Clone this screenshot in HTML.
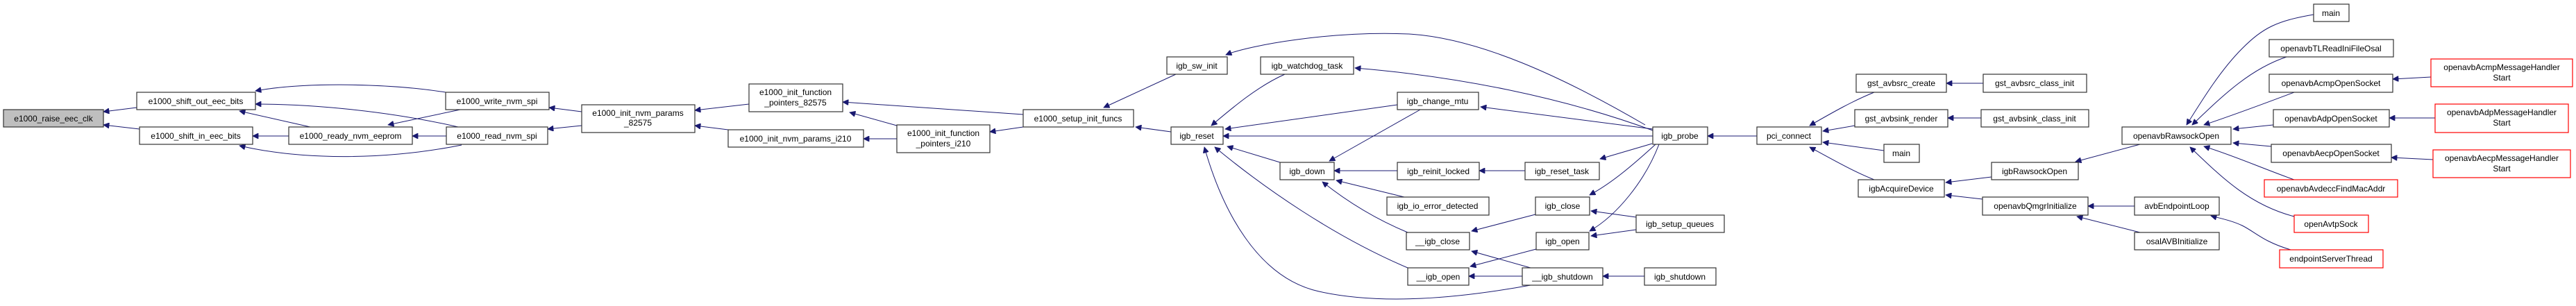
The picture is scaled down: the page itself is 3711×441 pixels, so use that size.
<!DOCTYPE html>
<html><head><meta charset="utf-8"><style>
html,body{margin:0;padding:0;background:#fff;}
svg{display:block;}
text{font-family:"Liberation Sans",Arial,sans-serif;font-size:12px;fill:#000;text-anchor:middle;}
.n{fill:#fff;stroke:#333;stroke-width:1.2;}
.g{fill:#bfbfbf;stroke:#333;stroke-width:1.2;}
.r{fill:#fff;stroke:#ff0000;stroke-width:1.2;}
.e{fill:none;stroke:#191970;stroke-width:1;marker-end:url(#a);}
</style></head><body>
<svg width="3711" height="441" viewBox="0 0 3711 441" xmlns="http://www.w3.org/2000/svg">
<defs><marker id="a" viewBox="0 0 10 10" refX="10" refY="5" markerWidth="10" markerHeight="8" orient="auto" markerUnits="userSpaceOnUse"><path d="M0,0 L10,5 L0,10 z" fill="#191970" stroke="#191970"/></marker></defs>
<g>
<path class="e" d="M197,155 L149,161"/>
<path class="e" d="M201,186 L149,180"/>
<path class="e" d="M642,133 C560,120 440,118 368,131"/>
<path class="e" d="M660,183 C560,160 450,150 368,150"/>
<path class="e" d="M447,183 L345,160"/>
<path class="e" d="M416,196 L364,196"/>
<path class="e" d="M665,209 C560,230 440,232 345,210"/>
<path class="e" d="M663,158 L559,180"/>
<path class="e" d="M643,196 L594,196"/>
<path class="e" d="M838,161 L791,155"/>
<path class="e" d="M838,181 L789,186"/>
<path class="e" d="M1079,150 L1001,159"/>
<path class="e" d="M1049,187 L1001,181"/>
<path class="e" d="M1474,165 L1214,147"/>
<path class="e" d="M1292,181 L1224,162"/>
<path class="e" d="M1292,200 L1244,200"/>
<path class="e" d="M1474,183 L1426,190"/>
<path class="e" d="M1694,107 L1590,155"/>
<path class="e" d="M1687,190 L1636,183"/>
<path class="e" d="M2370,180 C2250,110 2130,55 2030,49 C1920,44 1800,65 1766,79"/>
<path class="e" d="M2381,188 C2250,140 2100,110 1952,98"/>
<path class="e" d="M1851,107 C1810,125 1770,160 1745,181"/>
<path class="e" d="M2013,151 L1765,186"/>
<path class="e" d="M2381,196 L1762,196"/>
<path class="e" d="M1844,234 L1768,211"/>
<path class="e" d="M2028,386 C1920,340 1820,270 1750,212"/>
<path class="e" d="M2205,411 C2100,430 1990,440 1900,420 C1810,400 1760,300 1735,212"/>
<path class="e" d="M2381,186 L2133,154"/>
<path class="e" d="M2046,158 L1915,232"/>
<path class="e" d="M2013,246 L1922,246"/>
<path class="e" d="M2023,284 L1925,260"/>
<path class="e" d="M2028,335 C1980,315 1940,290 1905,262"/>
<path class="e" d="M2197,246 L2131,246"/>
<path class="e" d="M2380,207 L2305,229"/>
<path class="e" d="M2385,208 C2350,240 2320,265 2290,281"/>
<path class="e" d="M2390,208 C2370,260 2330,310 2290,333"/>
<path class="e" d="M2212,309 L2120,333"/>
<path class="e" d="M2213,359 L2118,384"/>
<path class="e" d="M2205,386 L2120,362"/>
<path class="e" d="M2193,398 L2116,398"/>
<path class="e" d="M2357,313 L2292,304"/>
<path class="e" d="M2357,331 L2292,340"/>
<path class="e" d="M2369,398 L2309,398"/>
<path class="e" d="M2531,196 L2460,196"/>
<path class="e" d="M2700,133 C2670,145 2640,162 2607,181"/>
<path class="e" d="M2672,181 L2626,189"/>
<path class="e" d="M2714,217 L2626,205"/>
<path class="e" d="M2700,259 C2670,247 2640,230 2607,212"/>
<path class="e" d="M2857,120 L2804,120"/>
<path class="e" d="M2854,170 L2806,170"/>
<path class="e" d="M2869,255 L2803,263"/>
<path class="e" d="M2856,287 L2803,281"/>
<path class="e" d="M3083,208 L2990,233"/>
<path class="e" d="M3075,297 L3008,297"/>
<path class="e" d="M3083,335 L2992,312"/>
<path class="e" d="M3333,21 C3280,30 3260,40 3230,70 C3200,100 3175,140 3150,180"/>
<path class="e" d="M3294,82 C3240,100 3200,140 3158,180"/>
<path class="e" d="M3305,133 C3260,150 3220,165 3175,180"/>
<path class="e" d="M3275,180 L3217,186"/>
<path class="e" d="M3272,211 L3217,206"/>
<path class="e" d="M3305,259 C3260,243 3220,225 3175,211"/>
<path class="e" d="M3305,312 C3240,295 3200,255 3155,212"/>
<path class="e" d="M3300,360 C3260,348 3250,335 3230,325 C3215,318 3200,315 3185,311"/>
<path class="e" d="M3502,111 L3447,114"/>
<path class="e" d="M3508,170 L3442,170"/>
<path class="e" d="M3505,230 L3445,227"/>
</g>
<g>
<rect class="g" x="5" y="158" width="144" height="25"/><text x="77" y="175">e1000_raise_eec_clk</text>
<rect class="n" x="197" y="133" width="171" height="25"/><text x="282" y="150">e1000_shift_out_eec_bits</text>
<rect class="n" x="201" y="183" width="163" height="25"/><text x="282" y="200">e1000_shift_in_eec_bits</text>
<rect class="n" x="416" y="183" width="178" height="25"/><text x="505" y="200">e1000_ready_nvm_eeprom</text>
<rect class="n" x="642" y="133" width="149" height="25"/><text x="716" y="150">e1000_write_nvm_spi</text>
<rect class="n" x="643" y="183" width="146" height="25"/><text x="716" y="200">e1000_read_nvm_spi</text>
<rect class="n" x="838" y="151" width="163" height="40"/><text x="919" y="167">e1000_init_nvm_params</text><text x="919" y="181">_82575</text>
<rect class="n" x="1079" y="121" width="135" height="40"/><text x="1146" y="137">e1000_init_function</text><text x="1146" y="152">_pointers_82575</text>
<rect class="n" x="1049" y="187" width="195" height="25"/><text x="1146" y="204">e1000_init_nvm_params_i210</text>
<rect class="n" x="1292" y="180" width="134" height="40"/><text x="1359" y="196">e1000_init_function</text><text x="1359" y="211">_pointers_i210</text>
<rect class="n" x="1474" y="158" width="159" height="25"/><text x="1553" y="175">e1000_setup_init_funcs</text>
<rect class="n" x="1681" y="82" width="87" height="25"/><text x="1724" y="99">igb_sw_init</text>
<rect class="n" x="1687" y="183" width="75" height="25"/><text x="1724" y="200">igb_reset</text>
<rect class="n" x="1816" y="82" width="134" height="25"/><text x="1883" y="99">igb_watchdog_task</text>
<rect class="n" x="2013" y="133" width="117" height="25"/><text x="2071" y="150">igb_change_mtu</text>
<rect class="n" x="1844" y="234" width="78" height="25"/><text x="1883" y="251">igb_down</text>
<rect class="n" x="2013" y="234" width="118" height="25"/><text x="2072" y="251">igb_reinit_locked</text>
<rect class="n" x="2197" y="234" width="107" height="25"/><text x="2250" y="251">igb_reset_task</text>
<rect class="n" x="1998" y="284" width="147" height="26"/><text x="2071" y="301">igb_io_error_detected</text>
<rect class="n" x="2212" y="284" width="78" height="26"/><text x="2251" y="301">igb_close</text>
<rect class="n" x="2026" y="335" width="91" height="25"/><text x="2071" y="352">__igb_close</text>
<rect class="n" x="2213" y="335" width="76" height="25"/><text x="2251" y="352">igb_open</text>
<rect class="n" x="2028" y="386" width="88" height="25"/><text x="2072" y="403">__igb_open</text>
<rect class="n" x="2193" y="386" width="116" height="25"/><text x="2251" y="403">__igb_shutdown</text>
<rect class="n" x="2381" y="183" width="79" height="25"/><text x="2420" y="200">igb_probe</text>
<rect class="n" x="2357" y="310" width="127" height="25"/><text x="2420" y="327">igb_setup_queues</text>
<rect class="n" x="2369" y="386" width="103" height="25"/><text x="2420" y="403">igb_shutdown</text>
<rect class="n" x="2531" y="183" width="93" height="25"/><text x="2577" y="200">pci_connect</text>
<rect class="n" x="2674" y="107" width="130" height="26"/><text x="2739" y="124">gst_avbsrc_create</text>
<rect class="n" x="2672" y="158" width="134" height="25"/><text x="2739" y="175">gst_avbsink_render</text>
<rect class="n" x="2714" y="208" width="51" height="26"/><text x="2739" y="225">main</text>
<rect class="n" x="2677" y="259" width="124" height="25"/><text x="2739" y="276">igbAcquireDevice</text>
<rect class="n" x="2857" y="107" width="149" height="26"/><text x="2931" y="124">gst_avbsrc_class_init</text>
<rect class="n" x="2854" y="158" width="155" height="25"/><text x="2931" y="175">gst_avbsink_class_init</text>
<rect class="n" x="2869" y="234" width="125" height="25"/><text x="2931" y="251">igbRawsockOpen</text>
<rect class="n" x="2856" y="284" width="152" height="26"/><text x="2932" y="301">openavbQmgrInitialize</text>
<rect class="n" x="3057" y="183" width="157" height="25"/><text x="3135" y="200">openavbRawsockOpen</text>
<rect class="n" x="3075" y="284" width="122" height="26"/><text x="3136" y="301">avbEndpointLoop</text>
<rect class="n" x="3075" y="335" width="122" height="25"/><text x="3136" y="352">osalAVBInitialize</text>
<rect class="n" x="3333" y="6" width="51" height="25"/><text x="3358" y="23">main</text>
<rect class="n" x="3269" y="57" width="179" height="25"/><text x="3358" y="74">openavbTLReadIniFileOsal</text>
<rect class="n" x="3269" y="107" width="178" height="26"/><text x="3358" y="124">openavbAcmpOpenSocket</text>
<rect class="n" x="3275" y="158" width="167" height="25"/><text x="3358" y="175">openavbAdpOpenSocket</text>
<rect class="n" x="3272" y="208" width="173" height="26"/><text x="3358" y="225">openavbAecpOpenSocket</text>
<rect class="r" x="3262" y="259" width="192" height="25"/><text x="3358" y="276">openavbAvdeccFindMacAddr</text>
<rect class="r" x="3305" y="310" width="107" height="25"/><text x="3358" y="327">openAvtpSock</text>
<rect class="r" x="3284" y="360" width="149" height="26"/><text x="3358" y="377">endpointServerThread</text>
<rect class="r" x="3502" y="85" width="204" height="40"/><text x="3604" y="101">openavbAcmpMessageHandler</text><text x="3604" y="116">Start</text>
<rect class="r" x="3508" y="150" width="192" height="41"/><text x="3604" y="166">openavbAdpMessageHandler</text><text x="3604" y="181">Start</text>
<rect class="r" x="3505" y="216" width="198" height="40"/><text x="3604" y="232">openavbAecpMessageHandler</text><text x="3604" y="247">Start</text>
</g>
</svg>
</body></html>
